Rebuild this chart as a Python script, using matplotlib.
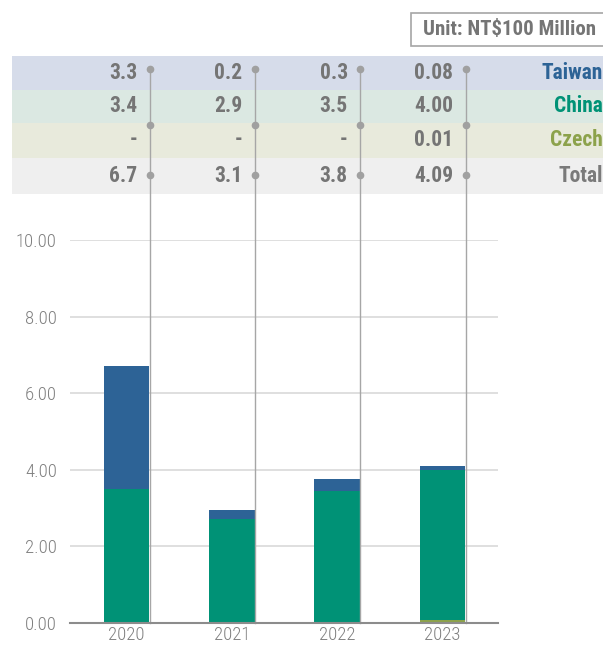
import matplotlib
matplotlib.use("Agg")
import matplotlib.pyplot as plt
import numpy as np

plt.rcParams['font.family'] = ['Roboto Condensed', 'DejaVu Sans']

years = ["2020", "2021", "2022", "2023"]
series = ["Taiwan", "China", "Czech"]

# bar heights as drawn (NT$100 million)
czech = [0.0, 0.0, 0.0, 0.08]
china = [3.50, 2.72, 3.45, 3.92]
taiwan = [3.21, 0.23, 0.31, 0.10]

# table rows as printed
row_names = ["Taiwan", "China", "Czech", "Total"]
row_values = [
    ["3.3", "0.2", "0.3", "0.08"],
    ["3.4", "2.9", "3.5", "4.00"],
    ["-", "-", "-", "0.01"],
    ["6.7", "3.1", "3.8", "4.09"],
]

c_taiwan = "#2d6396"
c_china = "#009276"
c_czech = "#8ca24b"
c_total = "#7a7a7a"
row_colors = [c_taiwan, c_china, c_czech, c_total]
band_colors = ["#d6dcea", "#dbe8e2", "#e8eadc", "#efefef"]
gray_txt = "#757575"

fig = plt.figure(figsize=(6.03, 6.46), dpi=100)
ax = fig.add_axes([70 / 603, 23 / 646, 428 / 603, 383 / 646])

x = np.arange(len(years))
w = 0.432
b1 = np.array(czech)
b2 = b1 + np.array(china)
ax.bar(x, czech, w, color=c_czech, zorder=3)
ax.bar(x, china, w, bottom=b1, color=c_china, zorder=3)
ax.bar(x, taiwan, w, bottom=b2, color=c_taiwan, zorder=3)

ax.set_xlim(-0.537, 3.528)
ax.set_ylim(0, 10)
ax.set_yticks(np.arange(0, 11, 2))
ax.set_yticklabels([f"{v:.2f}" for v in np.arange(0, 11, 2)])
ax.set_xticks(x)
ax.set_xticklabels(years)
ax.tick_params(axis="y", length=0, pad=9.5, labelsize=13.5, labelcolor="#808080")
ax.tick_params(axis="x", length=0, pad=2.5, labelsize=13.5, labelcolor="#808080")
for lab in ax.get_xticklabels() + ax.get_yticklabels():
    lab.set_fontweight("light")
ax.grid(axis="y", color="#d9d9d9", lw=1.2, zorder=0)
for s in ["top", "right", "left"]:
    ax.spines[s].set_visible(False)
ax.spines["bottom"].set_color("#8c8c8c")
ax.spines["bottom"].set_linewidth(1.5)
ax.spines["bottom"].set_zorder(4)

# table bands above the plot
band_edges = [14.80, 13.92, 13.05, 12.14, 11.20]
row_y = [14.36, 13.49, 12.60, 11.67]
for i in range(4):
    ax.add_patch(plt.Rectangle((-1.087, band_edges[i + 1]), 5.62,
                               band_edges[i] - band_edges[i + 1],
                               color=band_colors[i], lw=0, clip_on=False, zorder=1))
    for j in range(len(years)):
        ax.text(j + 0.10, row_y[i], row_values[i][j], ha="right", va="center",
                fontsize=15.5, fontweight="bold", color=gray_txt, clip_on=False, zorder=5)
    ax.text(4.525, row_y[i], row_names[i], ha="right", va="center",
            fontsize=15.5, fontweight="bold", color=row_colors[i], clip_on=False, zorder=5)

# connector lines and dots
for j in range(len(years)):
    xr = j + w / 2 + 0.005
    ax.plot([xr, xr], [0, 14.46], color="#a6a6a6", lw=1, clip_on=False, zorder=4)
    ax.plot([xr] * 3, [14.46, 13.00, 11.70], "o", color="#a0a0a0", ms=4.5,
            clip_on=False, zorder=5)

# unit box
ax.add_patch(plt.Rectangle((2.70, 15.07), 2.0, 0.86, facecolor="white",
                           edgecolor="#a6a6a6", lw=1.2, clip_on=False, zorder=2))
ax.text(2.815, 15.50, "Unit: NT$100 Million", ha="left", va="center",
        fontsize=15, fontweight="bold", color=gray_txt, clip_on=False, zorder=5)

fig.savefig("out.png", dpi=100)
